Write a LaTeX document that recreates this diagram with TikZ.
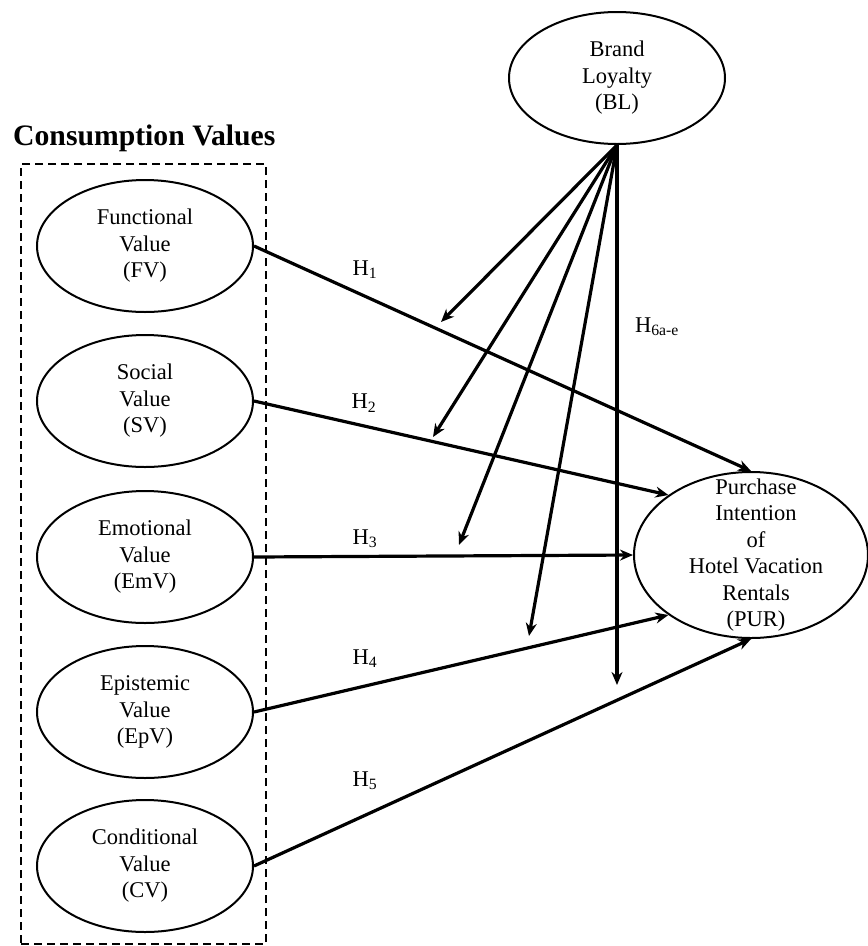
\documentclass[tikz,border=0pt]{standalone}
\usepackage{fontspec}
\setmainfont{Liberation Serif}
\usetikzlibrary{arrows.meta,shapes.geometric}

\begin{document}
\begin{tikzpicture}[x=1pt, y=-1pt, >={Stealth[length=13pt,width=11pt]},
                    every node/.style={font=\fontsize{22.5}{26.5}\selectfont},
                    construct/.style={ellipse, draw, line width=2pt, align=center, inner sep=0pt,
                                      minimum width=216pt, minimum height=132pt},
                    link/.style={->, line width=3.2pt},
                    hyp/.style={inner sep=0pt}]
\useasboundingbox (0,0) rectangle (868,946);

% consumption values
\node[draw, dash pattern=on 8pt off 5pt, line width=2pt, inner sep=0pt,
      minimum width=245pt, minimum height=780pt] (CVbox) at (143.5,554) {};
\node[font=\fontsize{29.7}{34}\selectfont\bfseries, anchor=base west, inner sep=0pt] (title) at (13,145) {Consumption Values};

\node[construct] (FV)  at (145,246) {Functional\\Value\\(FV)};
\node[construct] (SV)  at (145,401) {Social\\Value\\(SV)};
\node[construct] (EmV) at (145,557) {Emotional\\Value\\(EmV)};
\node[construct] (EpV) at (145,712) {Epistemic\\Value\\(EpV)};
\node[construct] (CV)  at (145,866) {Conditional\\Value\\(CV)};

\node[construct] (BL) at (617,78) {Brand\\Loyalty\\(BL)};
\node[construct, minimum width=234pt, minimum height=166pt, inner ysep=-24pt] (PUR) at (751,555)
     {\hspace*{10pt}Purchase\\\hspace*{10pt}Intention\\\hspace*{10pt}of\\\hspace*{10pt}Hotel Vacation\\\hspace*{10pt}Rentals\\\hspace*{10pt}(PUR)};

% direct effects
\path[link]
(FV.east)  edge (PUR.north)
(SV.east)  edge (PUR.144)
(EmV.east) edge (PUR.west)
(EpV.east) edge (PUR.216)
(CV.east)  edge (PUR.south);

\node[hyp] (h1) at (365,270) {H\textsubscript{1}};
\node[hyp] (h2) at (364,403) {H\textsubscript{2}};
\node[hyp] (h3) at (365,539) {H\textsubscript{3}};
\node[hyp] (h4) at (365,659) {H\textsubscript{4}};
\node[hyp] (h5) at (365,781) {H\textsubscript{5}};

% moderation by brand loyalty
\coordinate (m1) at (441,322);
\coordinate (m2) at (433,437);
\coordinate (m3) at (459,545);
\coordinate (m4) at (529,636);
\coordinate (m5) at (617,685);
\foreach \m in {m1,m2,m3,m4,m5}
  \draw[link] (BL.south) -- (\m);

\node[hyp] (h6) at (657,327) {H\textsubscript{6a-e}};
\end{tikzpicture}
\end{document}
